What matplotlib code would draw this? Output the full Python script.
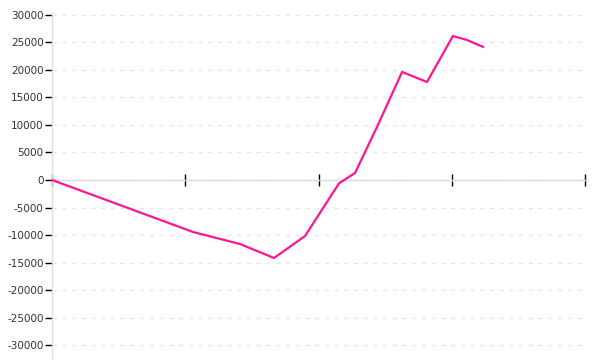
import matplotlib
matplotlib.use("Agg")
import matplotlib.pyplot as plt

# data (x in axis-tick units, y values)
x_vals = [0, 1.058, 1.411, 1.666, 1.899, 2.154, 2.274, 2.439, 2.627, 2.814, 3.009, 3.114, 3.235]
y_vals = [0, -9450, -11640, -14180, -10180, -600, 1270, 9640, 19640, 17820, 26180, 25450, 24200]
x_ticks = [0, 1, 2, 3, 4]
y_ticks = list(range(-30000, 30001, 5000))

W, H = 600, 360
fig = plt.figure(figsize=(W / 100, H / 100), dpi=100)
left, right, top, bottom = 52, 585, 13, 358
ax = fig.add_axes([left / W, 1 - bottom / H, (right - left) / W, (bottom - top) / H])

ax.plot(x_vals, y_vals, color="#ff1493", lw=1.6, solid_joinstyle="miter", zorder=3)

ax.set_xlim(0, 4)
ax.set_ylim(-32360, 30360)
ax.set_yticks(y_ticks)
ax.set_yticklabels([str(v) for v in y_ticks], fontsize=7.5, color="#333333",
                   family="DejaVu Sans")
ax.set_xticks(x_ticks)
ax.set_xticklabels([])

for s in ["top", "right"]:
    ax.spines[s].set_visible(False)
ax.spines["left"].set_color("#dddddd")
ax.spines["left"].set_linewidth(1)
ax.spines["bottom"].set_position(("data", 0))
ax.spines["bottom"].set_color("#dddddd")
ax.spines["bottom"].set_linewidth(1)

ax.tick_params(axis="y", direction="out", length=5, width=1, color="black", pad=1)
ax.tick_params(axis="x", direction="inout", length=9, width=1, color="black")

ax.yaxis.grid(True, color="#e6e6e6", linestyle=(0, (3, 4)), linewidth=1)
ax.xaxis.grid(False)
ax.set_axisbelow(True)

fig.savefig("out.png", dpi=100)
